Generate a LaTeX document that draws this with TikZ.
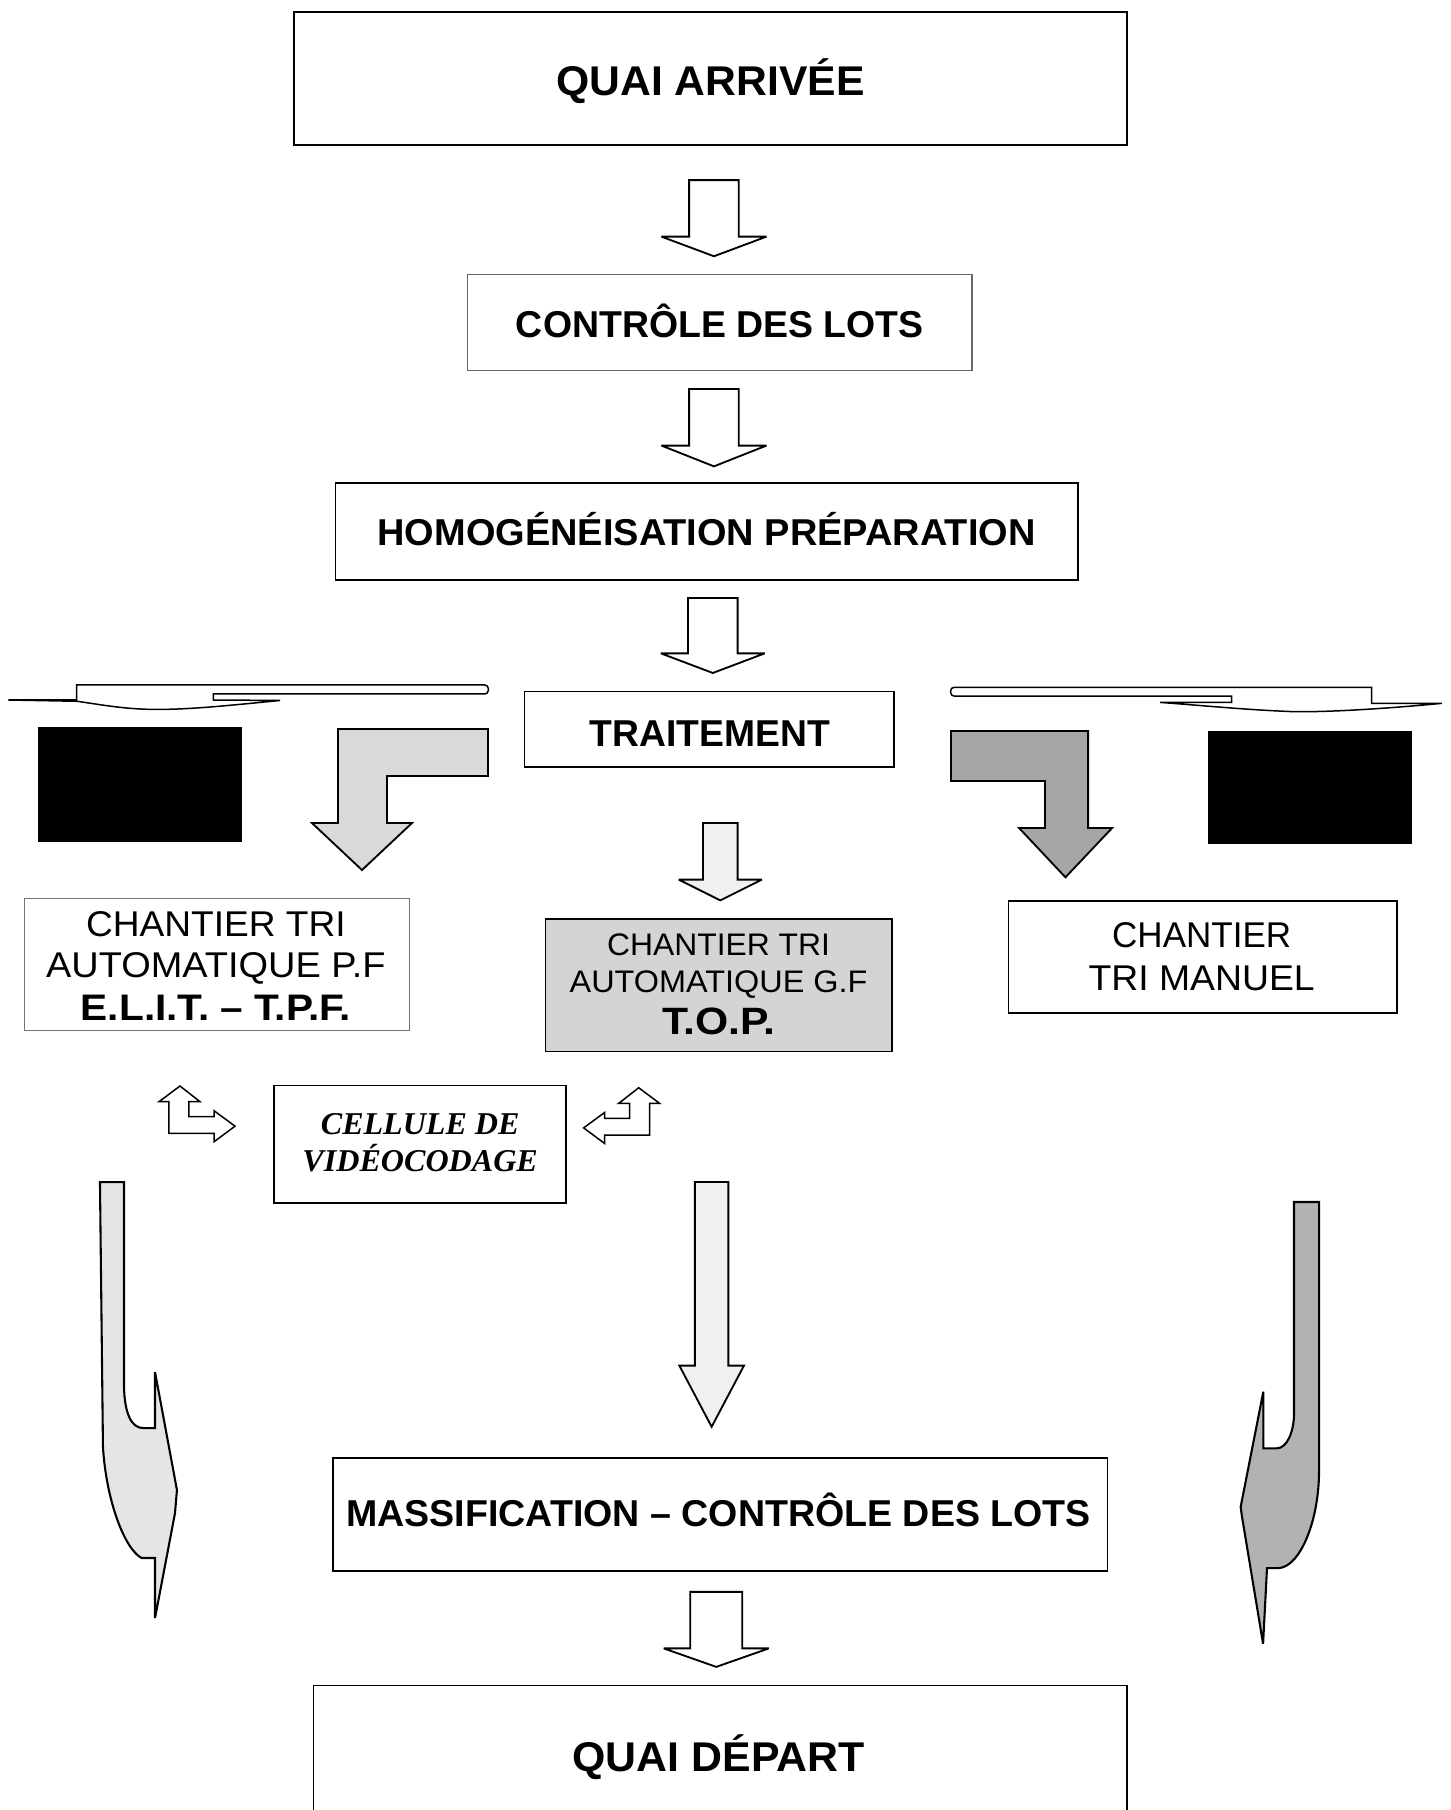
\documentclass[tikz,border=0pt]{standalone}
\usepackage{fontspec}
\usepackage{graphicx}
\setmainfont{Liberation Sans}
\newfontfamily\serifbi{Liberation Serif}
\newcommand\fitw[2]{\resizebox{#1pt}{\height}{#2}}
\newcommand\bdown[7]{%
  \filldraw[blk, fill=#7] (#1-#5,#2) -- (#1+#5,#2) -- (#1+#5,#3) -- (#1+#6,#3)
     -- (#1,#4) -- (#1-#6,#3) -- (#1-#5,#3) -- cycle;}
\tikzset{
  box/.style={draw=black, line width=1.4pt, inner sep=0pt, outer sep=0pt},
  txt/.style={inner sep=0pt, outer sep=0pt, anchor=base},
  blk/.style={draw=black, line width=1.6pt, line join=miter, miter limit=4},
  bigb/.style={font=\bfseries\fontsize{36}{38}\selectfont},
  midb/.style={font=\bfseries\fontsize{32.4}{36}\selectfont},
  reg/.style={font=\fontsize{31}{34}\selectfont},
}
\begin{document}
\begin{tikzpicture}[x=1pt,y=-1pt]
\useasboundingbox (0,0) rectangle (1257,1568);
\clip (0,0) rectangle (1257,1568);
\fill[white] (0,0) rectangle (1257,1568);

% ---------- boxes ----------
\node[box, line width=1.8pt, minimum width=721pt, minimum height=116pt] (quai) at (615.5,68) {};
\node[box, draw=black!60, line width=1.2pt, minimum width=437pt, minimum height=83pt] (ctrl) at (623.5,279.5) {};
\node[box, minimum width=643pt, minimum height=84pt] (homog) at (612.3,460.2) {};
\node[box, minimum width=320pt, minimum height=65pt] (trait) at (614.5,631.7) {};
\node[box, draw=black!55, line width=1.1pt, minimum width=333pt, minimum height=114.7pt] (chl) at (188,835.5) {};
\node[box, fill=black!17, minimum width=300pt, minimum height=115pt] (top) at (622.7,853.5) {};
\node[box, minimum width=336.5pt, minimum height=97pt] (man) at (1041.8,829) {};
\node[box, minimum width=253pt, minimum height=102pt] (cell) at (363.7,991.2) {};
\node[box, minimum width=671pt, minimum height=98pt] (mass) at (624,1312) {};
\node[box, minimum width=705pt, minimum height=124pt] (dep) at (624,1522) {};

% ---------- texts ----------
\node[txt, bigb] (tquai) at (615.5,82.5) {\fitw{267}{QUAI ARRIVÉE}};
\node[txt, midb] (tctrl) at (623.5,292.6) {\fitw{353}{CONTRÔLE DES LOTS}};
\node[txt, midb] (thomog) at (612,472.2) {\fitw{570}{HOMOGÉNÉISATION PRÉPARATION}};
\node[txt, midb] (ttrait) at (615,647) {\fitw{208}{TRAITEMENT}};
\node[txt, midb] (tmass) at (622.5,1322.6) {\fitw{645}{MASSIFICATION – CONTRÔLE DES LOTS}};
\node[txt, bigb] (tdep) at (622.5,1535) {\fitw{253}{QUAI DÉPART}};

\node[txt, reg] (tchl1) at (187,811) {\fitw{225}{CHANTIER TRI}};
\node[txt, reg] (tchl2) at (187,847) {\fitw{294}{AUTOMATIQUE P.F}};
\node[txt, font=\bfseries\fontsize{32}{34}\selectfont] (tchl3) at (187,884) {\fitw{234}{E.L.I.T. – T.P.F.}};

\node[txt, font=\fontsize{27}{30}\selectfont] (ttop1) at (622.5,828) {\fitw{193}{CHANTIER TRI}};
\node[txt, font=\fontsize{27}{30}\selectfont] (ttop2) at (622.5,860) {\fitw{258}{AUTOMATIQUE G.F}};
\node[txt, font=\bfseries\fontsize{33}{36}\selectfont] (ttop3) at (622.5,896) {\fitw{98}{T.O.P.}};

\node[txt, reg] (tman1) at (1041,821) {\fitw{155}{CHANTIER}};
\node[txt, reg] (tman2) at (1041,858) {\fitw{196}{TRI MANUEL}};

\node[txt, font=\serifbi\bfseries\itshape\fontsize{27.5}{30}\selectfont] (tcell1) at (364,982.5) {\fitw{172}{CELLULE DE}};
\node[txt, font=\serifbi\bfseries\itshape\fontsize{27.5}{30}\selectfont] (tcell2) at (364,1015) {\fitw{204}{VIDÉOCODAGE}};

% ---------- straight block arrows ----------
\bdown{618.5}{156}{205}{222}{21.5}{45.5}{white}
\bdown{618.5}{337}{386}{404}{21.5}{45.5}{white}
\bdown{617.5}{518}{566}{583}{21.5}{45}{white}
\bdown{620.5}{1379}{1428}{1444}{22.5}{45.5}{white}
\bdown{624}{713}{762}{780}{15}{36}{black!6}
\bdown{616.5}{1024}{1183}{1236}{14.5}{28}{black!6}

% ---------- flattened arrows at TRAITEMENT level ----------
\filldraw[blk, line width=1.3pt, fill=white]
  (7.2,606.4) -- (66.4,606.4) -- (66.4,593.4) -- (418,593.4)
  [rounded corners=3pt] -- (423,593.4) -- (423,601.2) [sharp corners] -- (184.8,601.2)
  -- (184.8,606.4) -- (242.6,606.8)
  .. controls (190,612) and (160,615) .. (130,614.5)
  .. controls (105,614) and (85,610) .. (66.4,607.5) -- cycle;
\filldraw[blk, line width=1.3pt, fill=white]
  (1067,603) -- (828,603) [rounded corners=3pt] -- (823.6,603) -- (823.6,595.4)
  [sharp corners] -- (828,595.4) -- (1188.3,595.4) -- (1188.3,609.3) -- (1249,609.3)
  .. controls (1200,614) and (1150,617) .. (1120.4,616.5)
  .. controls (1080,615) and (1040,611) .. (1005,608.5) -- (1067,608.5) -- cycle;

% ---------- black boxes ----------
\fill[black] (32.9,629.8) rectangle (209.6,729.4);
\fill[black] (1046.5,633.3) rectangle (1223.3,731.2);

% ---------- bent arrows ----------
\filldraw[blk, fill=black!15]
  (422.8,631.5) -- (292.8,631.5) -- (292.8,713) -- (270.3,713) -- (313.6,753.7)
  -- (356.9,713) -- (335.3,713) -- (335.3,672.3) -- (422.8,672.3) -- cycle;
\filldraw[blk, fill=black!35]
  (823.9,633.3) -- (942.6,633.3) -- (942.6,717.3) -- (963.4,717.3) -- (923,760)
  -- (882.8,717.3) -- (905.3,717.3) -- (905.3,676.6) -- (823.9,676.6) -- cycle;

% ---------- small double bent arrows ----------
\filldraw[blk, line width=1.3pt, fill=white]
  (146.4,954.4) -- (137.7,954.4) -- (155.9,940.8) -- (173.3,954.4) -- (163.7,954.4)
  -- (163.7,967.4) -- (185.4,967.4) -- (185.4,962.2) -- (203.6,975.6) -- (185.4,989.1)
  -- (185.4,981.8) -- (146.4,981.8) -- cycle;
\filldraw[blk, line width=1.3pt, fill=white]
  (562.8,955.9) -- (571.5,955.9) -- (553.3,942.3) -- (535.9,955.9) -- (545.5,955.9)
  -- (545.5,968.9) -- (523.8,968.9) -- (523.8,963.7) -- (505.6,977.1) -- (523.8,990.6)
  -- (523.8,983.3) -- (562.8,983.3) -- cycle;

% ---------- curved side arrows ----------
\filldraw[blk, line width=1.8pt, fill=black!10]
  (86.6,1024) -- (107.4,1024) -- (107.4,1201.3)
  .. controls (108,1225) and (114,1237.1) .. (124,1237.1) -- (134.3,1237.1)
  -- (134.3,1188.6) -- (153.3,1290.8) -- (151.6,1310.8) -- (134.3,1401.7)
  -- (134.3,1349.7) -- (122.7,1349.7)
  .. controls (108,1342) and (92,1300) .. (89.2,1253.6) -- cycle;
\filldraw[blk, line width=1.8pt, fill=black!30]
  (1121,1041.3) -- (1142.7,1041.3) -- (1142.7,1273.5)
  .. controls (1142.7,1320) and (1125,1358.4) .. (1107.2,1358.4) -- (1097.6,1358.4)
  -- (1094.2,1424) -- (1075.7,1312.5) -- (1074.8,1305.3) -- (1094.4,1205.6)
  -- (1094.4,1254.7) -- (1106,1254.7)
  .. controls (1115,1254.7) and (1121,1240) .. (1121,1224.4) -- cycle;
\end{tikzpicture}
\end{document}
